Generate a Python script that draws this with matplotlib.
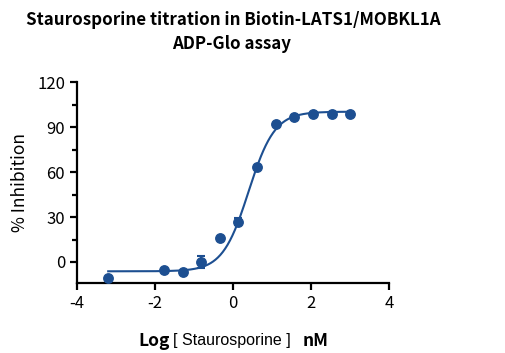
import numpy as np
import matplotlib
matplotlib.use("Agg")
import matplotlib.pyplot as plt

# Data (log10 nM concentration, % inhibition, SD)
log_conc = [-3.2, -1.77, -1.29, -0.81, -0.34, 0.14, 0.62, 1.09, 1.57, 2.05, 2.53, 3.0]
inhibition = [-10.9, -5.3, -6.4, 0.2, 15.8, 26.9, 63.6, 92.0, 96.4, 98.7, 98.4, 98.4]
sd = [0.0, 0.0, 0.0, 4.0, 0.0, 2.5, 0.0, 0.0, 0.0, 0.0, 0.0, 0.0]

# 4PL fit parameters
bottom, top, log_ic50, hill = -6.2, 100.2, 0.40, 1.30

yticks = [0, 30, 60, 90, 120]
xticks = [-4, -2, 0, 2, 4]

color = "#1d4f91"
plt.rcParams['font.family'] = ['Noto Sans CJK SC', 'DejaVu Sans']
plt.rcParams['axes.unicode_minus'] = False

fig = plt.figure(figsize=(5.05, 3.53), dpi=100)
ax = fig.add_axes([77/505, 1-283/353, (389-77)/505, (283-82)/353])

xf = np.linspace(min(log_conc), max(log_conc), 400)
yf = bottom + (top - bottom) / (1 + 10 ** ((log_ic50 - xf) * hill))
ax.plot(xf, yf, color=color, lw=1.5, zorder=2)
ax.errorbar(log_conc, inhibition, yerr=sd, fmt='o', color=color, ms=6.8,
            elinewidth=1.5, capsize=3, capthick=1.5, zorder=3, clip_on=False)

ax.set_xlim(-4, 4)
ax.set_ylim(-14, 120)
ax.set_xticks(xticks)
ax.set_yticks(yticks)
ax.set_yticks([15, 45, 75, 105], minor=True)
for s in ['top', 'right']:
    ax.spines[s].set_visible(False)
for s in ['left', 'bottom']:
    ax.spines[s].set_linewidth(1.6)
ax.tick_params(axis='both', which='major', direction='out', length=5, width=1.6, labelsize=12)
ax.tick_params(axis='y', which='minor', direction='out', length=3.5, width=1.6)
ax.set_ylabel('% Inhibition', fontsize=12.5, labelpad=6)

fig.text(233/505, 1-20/353, 'Staurosporine titration in Biotin-LATS1/MOBKL1A',
         ha='center', va='center', fontsize=12.2, fontweight='bold')
fig.text(232/505, 1-44/353, 'ADP-Glo assay', ha='center', va='center',
         fontsize=12.2, fontweight='bold')

yl = 1-341/353
fig.text(138/505, yl, 'Log', ha='left', va='center', fontsize=12.5, fontweight='bold')
fig.text(173/505, yl, '[ Staurosporine ]', ha='left', va='center', fontsize=11.5,
         family=['Liberation Sans', 'DejaVu Sans'])
fig.text(303/505, yl, 'nM', ha='left', va='center', fontsize=12.5, fontweight='bold')

fig.savefig('out.png', dpi=100)
